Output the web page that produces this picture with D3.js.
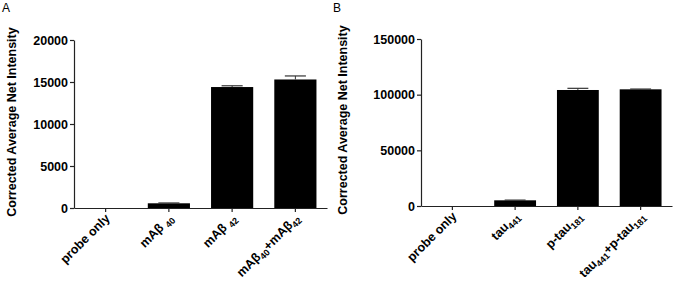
<!DOCTYPE html>
<html>
<head>
<meta charset="utf-8">
<script src="https://cdn.jsdelivr.net/npm/d3@7"></script>
</head>
<body style="margin:0">
<script>
// panel A data
const catsA = [
  [['probe only']],
  [['mAβ '], ['40', 1]],
  [['mAβ '], ['42', 1]],
  [['mAβ'], ['40', 1], ['+mAβ'], ['42', 1]]
]
const valuesA = [0, 560, 14400, 15300]
const errA = [0, 40, 150, 420]
const ticksA = [0, 5000, 10000, 15000, 20000]

// panel B data
const catsB = [
  [['probe only']],
  [['tau'], ['441', 1]],
  [['p-tau'], ['181', 1]],
  [['tau'], ['441', 1], ['+p-tau'], ['181', 1]]
]
const valuesB = [0, 5100, 104200, 104800]
const errB = [0, 200, 1500, 250]
const ticksB = [0, 50000, 100000, 150000]

const yTitle = 'Corrected Average Net Intensity'
const font = '"Liberation Sans", Arial, sans-serif'

let svg = d3.select('body').append('svg')
  .attr('width', 673)
  .attr('height', 288)
  .attr('font-family', font)

let labels = []

function panel(opts) {
  let g = svg.append('g')

  let x = d3.scaleBand()
    .domain(d3.range(opts.cats.length))
    .range([opts.x0, opts.x1])
    .paddingInner(1 / 3)
    .paddingOuter(1 / 6)

  let y = d3.scaleLinear()
    .domain([0, opts.max])
    .range([opts.y0, opts.y1])

  g.selectAll('rect.bar')
    .data(opts.values)
    .enter()
    .append('rect')
    .attr('class', 'bar')
    .attr('x', (d, i) => x(i))
    .attr('width', x.bandwidth())
    .attr('y', d => y(d))
    .attr('height', d => y(0) - y(d))
    .attr('fill', '#000')

  // error bars, upper only
  let capW = x.bandwidth() / 2
  opts.values.forEach((v, i) => {
    if (!opts.err[i]) return
    let cx = x(i) + x.bandwidth() / 2
    g.append('line')
      .attr('x1', cx).attr('x2', cx)
      .attr('y1', y(v)).attr('y2', y(v + opts.err[i]))
      .attr('stroke', '#333').attr('stroke-width', 1)
    g.append('line')
      .attr('x1', cx - capW / 2).attr('x2', cx + capW / 2)
      .attr('y1', y(v + opts.err[i])).attr('y2', y(v + opts.err[i]))
      .attr('stroke', '#333').attr('stroke-width', 1.2)
  })

  let ya = g.append('g')
    .attr('transform', `translate(${opts.x0},0)`)
    .call(d3.axisLeft(y).tickValues(opts.ticks).tickSize(4).tickSizeOuter(0).tickPadding(2).tickFormat(d3.format('d')))
  ya.selectAll('path, line').attr('stroke', '#222').attr('stroke-width', 1.2)
  ya.selectAll('text').attr('font-size', 12.5).attr('font-weight', 'bold').attr('fill', '#000').attr('font-family', font)

  let xa = g.append('g')
    .attr('transform', `translate(0,${opts.y0})`)
    .call(d3.axisBottom(x).tickSize(4).tickSizeOuter(0))
  xa.selectAll('path, line').attr('stroke', '#222').attr('stroke-width', 1.2)
  xa.selectAll('text').remove()

  opts.cats.forEach((parts, i) => {
    labels.push({ parts: parts, x: x(i) + x.bandwidth() / 2 + 5, y: opts.y0 + 11 })
  })

  svg.append('text')
    .attr('font-size', 12.5)
    .attr('font-weight', 'bold')
    .attr('text-anchor', 'middle')
    .attr('transform', `translate(${opts.titleX},${opts.titleY}) rotate(-90)`)
    .text(yTitle)

  svg.append('text')
    .attr('x', opts.letterX)
    .attr('y', 12)
    .attr('font-size', 12)
    .text(opts.letter)
}

panel({
  cats: catsA, values: valuesA, err: errA, ticks: ticksA, max: 20000,
  x0: 74, x1: 327, y0: 208, y1: 40,
  titleX: 16, titleY: 122, letter: 'A', letterX: 2
})

panel({
  cats: catsB, values: valuesB, err: errB, ticks: ticksB, max: 150000,
  x0: 421, x1: 672, y0: 206, y1: 39,
  titleX: 347, titleY: 120, letter: 'B', letterX: 333
})

// category labels, tilted 45 degrees
labels.forEach(l => {
  let t = svg.append('g')
    .attr('transform', `translate(${l.x},${l.y})`)
    .append('g')
    .attr('transform', 'rotate(-45)')
    .append('text')
    .attr('text-anchor', 'end')
    .attr('font-size', 12.5)
    .attr('font-weight', 'bold')
  l.parts.forEach((p, k) => {
    let prevSub = k > 0 && l.parts[k - 1][1]
    let ts = t.append('tspan').text(p[0])
    if (p[1]) ts.attr('font-size', 9).attr('dy', 3)
    else if (prevSub) ts.attr('dy', -3)
  })
})
</script>
</body>
</html>
